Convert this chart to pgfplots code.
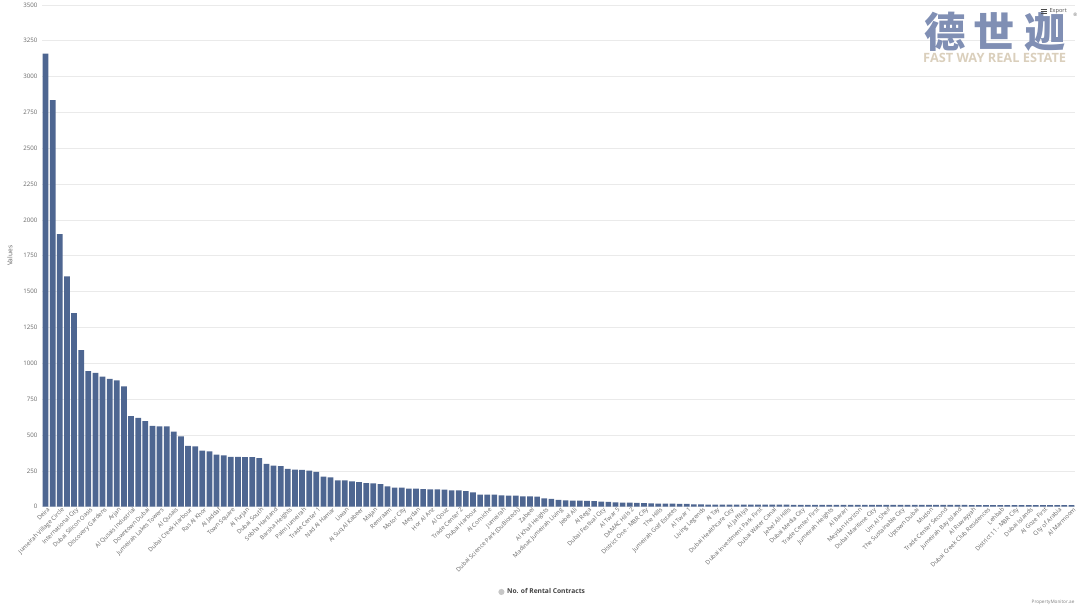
\documentclass[border=0pt]{standalone}
\usepackage{pgfplots}
\pgfplotsset{compat=1.18}
\usepackage{pgfplotstable}
\usepackage{fontspec}
\setmainfont{Open Sans}
\newfontfamily\cjk{Noto Sans CJK SC}
\definecolor{barblue}{RGB}{78,102,145}
\definecolor{gridc}{RGB}{234,234,234}
\definecolor{tickc}{RGB}{102,102,102}
\definecolor{logoblue}{RGB}{128,143,180}
\definecolor{logotan}{RGB}{218,207,188}
\pgfplotstableread{
x y
1 3160
2 2836
3 1902
4 1606
5 1350
6 1092
7 945
8 934
9 908
10 892
11 881
12 839
13 632
14 619
15 596
16 563
17 561
18 561
19 524
20 491
21 424
22 421
23 391
24 386
25 363
26 358
27 347
28 347
29 345
30 345
31 338
32 298
33 286
34 282
35 263
36 259
37 256
38 251
39 242
40 210
41 205
42 184
43 184
44 177
45 172
46 165
47 163
48 158
49 142
50 133
51 133
52 126
53 126
54 123
55 121
56 121
57 119
58 114
59 114
60 109
61 100
62 84
63 84
64 84
65 79
66 77
67 77
68 72
69 72
70 70
71 58
72 54
73 47
74 44
75 43
76 42
77 40
78 38
79 35
80 33
81 30
82 29
83 28
84 27
85 25
86 23
87 22
88 21
89 21
90 20
91 19
92 16
93 16
94 15
95 15
96 15
97 15
98 14
99 14
100 14
101 14
102 14
103 14
104 14
105 14
106 13
107 13
108 13
109 13
110 13
111 13
112 13
113 13
114 13
115 13
116 13
117 12
118 12
119 12
120 12
121 12
122 12
123 12
124 12
125 12
126 12
127 12
128 12
129 12
130 12
131 11
132 11
133 11
134 11
135 11
136 11
137 11
138 11
139 11
140 11
141 11
142 11
143 11
144 11
145 11
}\rentals
\begin{document}
\begin{tikzpicture}
\path[use as bounding box] (0,0) rectangle (810pt,456pt);
\begin{axis}[
  at={(31.5pt,76pt)}, anchor=south west,
  width=774.75pt, height=376.3pt, scale only axis,
  xmin=0.5, xmax=145.5, ymin=0, ymax=3500,
  ytick={0,250,...,3500},
  xtick={1,3,...,145},
  xticklabels={Deira,Jumeirah Village Circle,International City,Dubai Silicon Oasis,Discovery Gardens,Arjan,Al Qusais Industrial,Downtown Dubai,Jumeirah Lakes Towers,Al Qusais,Dubai Creek Harbour,Ras Al Khor,Al Jaddaf,Town Square,Al Furjan,Dubai South,Sobha Hartland,Barsha Heights,Palm Jumeirah,Trade Center 1,Nad Al Hamar,Liwan,Al Suq Al Kabeer,Majan,Remraam,Motor City,Meydan,Hor Al Anz,Al Qouz,Trade Center 2,Dubai Harbour,Al Corniche,Jumeirah,Dubai Science Park (DuBiotech),Zabeel,Al Khail Heights,Madinat Jumeirah Living,Jebel Ali,Al Rega,Dubai Festival City,Al Twar 5,DAMAC Hills 2,District One - MBR City,The Hills,Jumeirah Golf Estates,Al Twar 1,Living Legends,Al Tay,Dubai Healthcare City,Al Jaffiliya,Dubai Investment Park First,Dubai Water Canal,Jebel Ali Hills,Dubai Media City,Trade Center First,Jumeirah Heights,Al Barari,Meydan Horizon,Dubai Maritime City,Um Al Sheif,The Sustainable City,Uptown Dubai,Mudon,Trade Center Second,Jumeirah Bay Island,Al Ruwayyah,Dubai Creek Club Residences,Lehbab,District 11 - MBR City,Dubai Islands,Al Goze First,City of Arabia,Al Marmoom},
  x tick label style={rotate=45, anchor=north east, font=\fontsize{4.5}{5}\selectfont, text=tickc, inner sep=0.8pt, xshift=1.5pt},
  y tick label style={font=\fontsize{4.6}{5}\selectfont, text=tickc},
  /pgf/number format/assume math mode=true,
  /pgf/number format/1000 sep={},
  major tick length=0pt,
  ymajorgrids, grid style={gridc, line width=0.5pt},
  axis line style={draw=none},
  ylabel={Values},
  ylabel style={at={(axis description cs:-0.031,0.5)}, anchor=center, font=\fontsize{5}{6}\selectfont, text=tickc},
  legend style={at={(axis description cs:0.485,-0.170)}, anchor=center, draw=none, fill=none, font=\bfseries\fontsize{5}{6}\selectfont, text=black!75},
  legend image code/.code={\fill[black!22] (0.1cm,0cm) circle (2.3pt);},
  clip=false,
]
\addplot[ybar, bar width=0.8, fill=barblue, draw=none] table[x=x, y=y] {\rentals};
\addlegendentry{No. of Rental Contracts}
\end{axis}
\node[text=logoblue, font=\cjk\bfseries\fontsize{31}{32}\selectfont, inner sep=0pt] at (746pt,432.5pt) {德\hspace{6.5pt}世\hspace{6.5pt}迦};
\node[text=logotan, font=\bfseries\fontsize{9.6}{10}\selectfont, inner sep=0pt] at (746pt,412.5pt) {FAST WAY REAL ESTATE};
\node[text=black!70, font=\fontsize{4.2}{5}\selectfont, inner sep=0pt, anchor=west] at (787pt,447.5pt) {Export};
\foreach \yy in {446pt,447.5pt,449pt} \draw[black!70, line width=0.6pt] (780.5pt,\yy) -- (785pt,\yy);
\node[text=black!60, font=\fontsize{3.5}{4}\selectfont, inner sep=0pt] at (806.5pt,445pt) {®};
\node[text=black!50, font=\fontsize{3.5}{4}\selectfont, inner sep=0pt, anchor=east] at (806pt,4pt) {PropertyMonitor.ae};
\end{tikzpicture}
\end{document}
